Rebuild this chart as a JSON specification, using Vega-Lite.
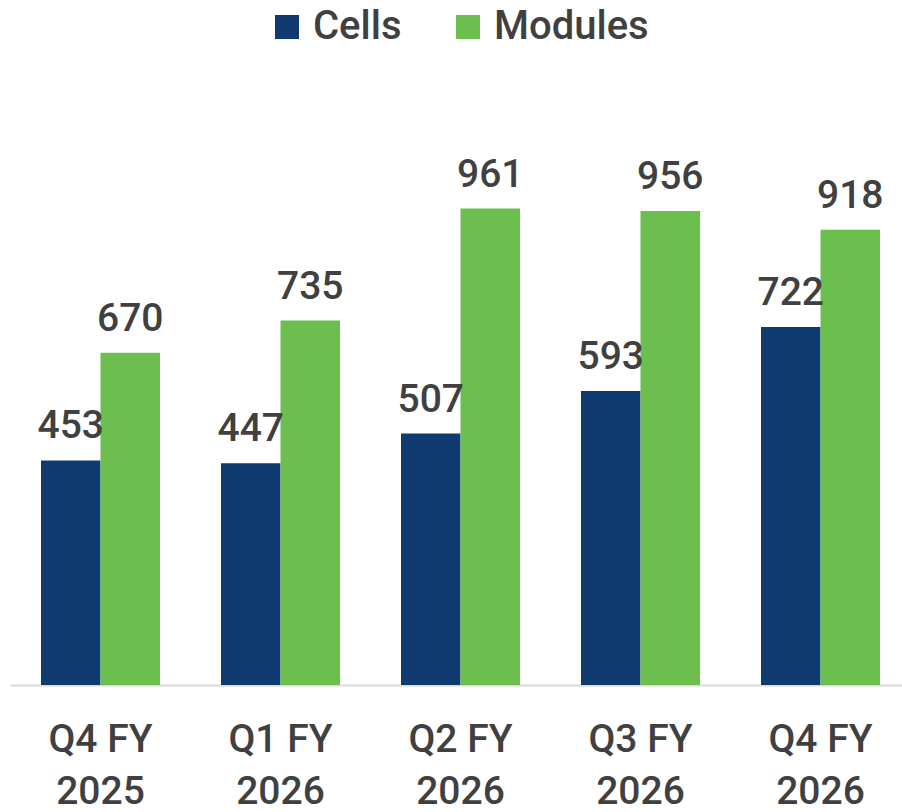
{
  "$schema": "https://vega.github.io/schema/vega-lite/v6.json",
  "autosize": "none",
  "width": 892,
  "height": 595,
  "padding": {"left": 10, "top": 90, "right": 0, "bottom": 127},
  "background": "white",
  "config": {
    "view": {"stroke": null},
    "font": "Roboto",
    "text": {"font": "Roboto"}
  },
  "data": {
    "values": [
      {"quarter": "Q4 FY|2025", "type": "Cells", "value": 453},
      {"quarter": "Q4 FY|2025", "type": "Modules", "value": 670},
      {"quarter": "Q1 FY|2026", "type": "Cells", "value": 447},
      {"quarter": "Q1 FY|2026", "type": "Modules", "value": 735},
      {"quarter": "Q2 FY|2026", "type": "Cells", "value": 507},
      {"quarter": "Q2 FY|2026", "type": "Modules", "value": 961},
      {"quarter": "Q3 FY|2026", "type": "Cells", "value": 593},
      {"quarter": "Q3 FY|2026", "type": "Modules", "value": 956},
      {"quarter": "Q4 FY|2026", "type": "Cells", "value": 722},
      {"quarter": "Q4 FY|2026", "type": "Modules", "value": 918}
    ]
  },
  "encoding": {
    "x": {
      "field": "quarter",
      "type": "nominal",
      "sort": null,
      "scale": {"paddingInner": 0.3389, "paddingOuter": 0.1472, "align": 0.585},
      "axis": {
        "title": null,
        "labelAngle": 0,
        "labelExpr": "split(datum.value, '|')",
        "labelFont": "Roboto",
        "labelFontWeight": 500,
        "labelFontSize": 39,
        "labelColor": "#404040",
        "labelLineHeight": 52,
        "labelPadding": 35,
        "labelBaseline": "top",
        "ticks": false,
        "domainColor": "#D9D9D9",
        "domainWidth": 2,
        "grid": false
      }
    },
    "xOffset": {"field": "type", "type": "nominal", "sort": ["Cells", "Modules"]},
    "y": {
      "field": "value",
      "type": "quantitative",
      "scale": {"domain": [0, 1200], "nice": false},
      "axis": null
    }
  },
  "layer": [
    {
      "mark": {"type": "bar"},
      "encoding": {
        "color": {
          "field": "type",
          "type": "nominal",
          "sort": ["Cells", "Modules"],
          "scale": {"domain": ["Cells", "Modules"], "range": ["#0E3A6F", "#6CBF4F"]},
          "legend": {
            "title": null,
            "orient": "none",
            "direction": "horizontal",
            "legendX": 257,
            "legendY": -83,
            "padding": 0,
            "symbolType": "square",
            "symbolSize": 576,
            "symbolStrokeWidth": 0,
            "labelFont": "Roboto",
            "labelFontWeight": 500,
            "labelFontSize": 40,
            "labelColor": "#404040",
            "labelOffset": 6,
            "columnPadding": 46
          }
        }
      }
    },
    {
      "mark": {
        "type": "text",
        "baseline": "alphabetic",
        "align": "center",
        "dy": -22,
        "fontSize": 39,
        "fontWeight": 500,
        "font": "Roboto",
        "color": "#404040"
      },
      "encoding": {"text": {"field": "value", "type": "quantitative"}}
    }
  ]
}
